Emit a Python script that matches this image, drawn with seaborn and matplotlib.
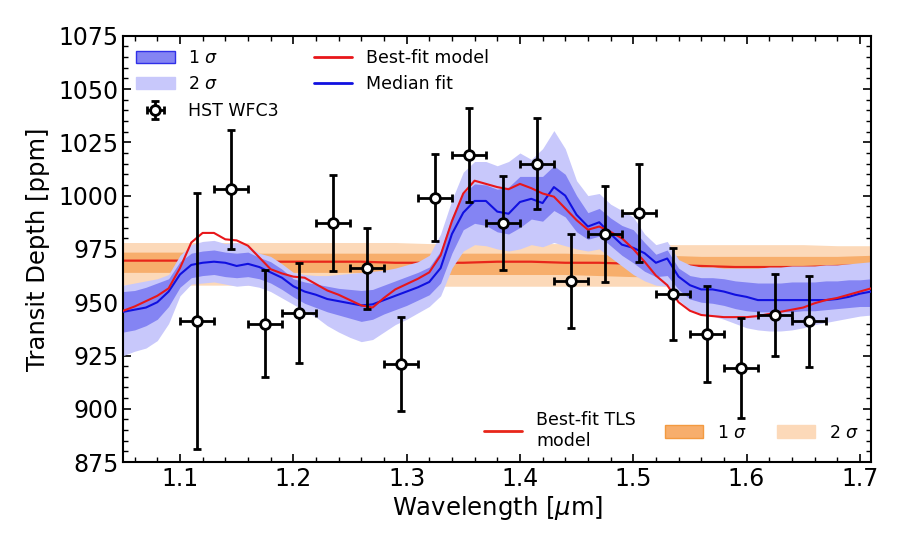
import matplotlib
matplotlib.use('Agg')
import matplotlib.pyplot as plt
from matplotlib.patches import Patch
from matplotlib.lines import Line2D
from matplotlib.ticker import MultipleLocator
import seaborn as sns
import numpy as np

# HST WFC3 spectrum
hst_wl = [1.115, 1.145, 1.175, 1.205, 1.235, 1.265, 1.295, 1.325, 1.355, 1.385,
          1.415, 1.445, 1.475, 1.505, 1.535, 1.565, 1.595, 1.625, 1.655]
hst_depth = [941, 1003, 940, 945, 987, 966, 921, 999, 1019, 987,
             1015, 960, 982, 992, 954, 935, 919, 944, 941]
hst_err = [60, 28, 25, 23.5, 22.5, 19, 22, 20.5, 22, 22,
           21.5, 22, 22.5, 23, 21.5, 22.5, 23.5, 19, 21.5]
hst_halfbin = [0.015] * 19

# retrieval model grid
wl = [1.05, 1.06, 1.07, 1.08, 1.09, 1.10, 1.11, 1.12, 1.13, 1.14, 1.15, 1.16,
      1.17, 1.18, 1.19, 1.20, 1.21, 1.22, 1.23, 1.24, 1.25, 1.26, 1.27, 1.28,
      1.29, 1.30, 1.31, 1.32, 1.33, 1.34, 1.35, 1.36, 1.37, 1.38, 1.39, 1.40,
      1.41, 1.42, 1.43, 1.44, 1.45, 1.46, 1.47, 1.48, 1.49, 1.50, 1.51, 1.52,
      1.53, 1.54, 1.55, 1.56, 1.57, 1.58, 1.59, 1.60, 1.61, 1.62, 1.63, 1.64,
      1.65, 1.66, 1.67, 1.68, 1.69, 1.70, 1.71]
best_fit = [946, 948, 950.5, 953, 956.5, 966, 978, 982.5, 982.5, 979.5, 979, 976.5,
            971, 965.5, 963.5, 962, 961.5, 958.5, 955.5, 953.5, 951, 948.5, 947.5, 952,
            956, 958.5, 961, 964, 972, 988, 1001, 1007, 1005.5, 1004, 1003, 1005.5,
            1003.5, 1001, 999.5, 994, 988.5, 984, 985.5, 983, 980, 975, 969, 962.5,
            958, 950, 946, 944, 943.5, 943, 943, 943, 943.5, 944.5, 945.5, 946.5,
            947.5, 949.5, 951, 952, 953.5, 955, 956.5]
median = [945.5, 946.5, 947.5, 950, 955, 963, 967.5, 968.5, 969, 968.5, 967, 968,
          966.5, 964, 961.5, 957.5, 955, 953.5, 951.5, 950.5, 949.5, 948.5, 949, 951,
          953, 955, 957, 959.5, 966, 982, 992, 997.5, 997.5, 992.5, 991.5, 997,
          998.5, 996.5, 1004, 1000, 991, 985.5, 987.5, 982, 977, 975.5, 973, 968.5,
          970.5, 962, 958, 956, 956, 955, 953.5, 952.5, 951, 951, 951, 951,
          951, 951, 951, 951.5, 952.5, 954, 955]
up_1s = [955, 955.5, 957, 959, 961, 969, 973, 974, 974.5, 973.5, 973, 973.5,
         971, 969, 965.5, 961, 959.5, 958.5, 957.5, 956.5, 956, 955.5, 956, 958,
         960, 962, 964, 966.5, 974, 990, 1001, 1005.5, 1005, 1003, 1004, 1009,
         1009, 1009, 1014, 1010, 1000, 992, 994, 989.5, 986, 984, 978, 972.5,
         974.5, 966, 962.5, 961.5, 961.5, 961, 960, 959.5, 959, 959, 959, 959.5,
         959.5, 959.5, 960, 960, 960.5, 960.5, 961]
lo_1s = [936, 937, 939, 942, 948, 957, 961.5, 962.5, 963, 962, 961.5, 962,
         961, 959, 956, 952.5, 949.5, 947.5, 945.5, 944, 942.5, 941, 942, 944.5,
         946.5, 948.5, 951, 953.5, 959, 973, 984, 987, 986, 983, 982, 985,
         989, 988, 993, 990, 983, 979.5, 981, 976.5, 972, 968.5, 964.5, 962,
         962.5, 956, 951.5, 950, 949.5, 948.5, 947, 946, 945.5, 945.5, 945.5, 945.5,
         946, 946, 946.5, 947, 947.5, 948, 948]
up_2s = [958, 959, 960, 961, 963, 972, 977, 978.5, 979, 977.5, 978, 976.5,
         973, 971.5, 968, 964, 963, 962.5, 962.5, 963, 963.5, 964, 964.5, 965,
         966, 967.5, 969, 972, 982, 998, 1011, 1016, 1016, 1014, 1016, 1020,
         1017, 1022, 1030.5, 1022, 1007, 1000, 1001, 996, 993, 990, 982, 977,
         978.5, 970, 967.5, 966.5, 966.5, 966, 966, 966, 966, 966.5, 966.5, 967,
         967, 967, 967.5, 967.5, 968, 968.5, 969]
lo_2s = [925, 927, 928.5, 932, 940, 953, 958.5, 959, 959.5, 958.5, 957.5, 958,
         957, 955, 952, 949, 946, 943, 939, 936, 933.5, 931.5, 932.5, 936,
         939.5, 942, 945, 948, 953, 966, 974, 977, 976.5, 975, 974, 975,
         977, 976, 978, 976.5, 975, 974, 975, 971, 967, 963, 960, 958,
         957.5, 951, 946.5, 944.5, 943.5, 942, 940, 938, 937, 936.5, 936.5, 937,
         938, 939.5, 940.5, 941.5, 942.5, 943.5, 944]

# TLS (flat) model
tls_wl = [1.05, 1.08, 1.11, 1.14, 1.17, 1.20, 1.23, 1.26, 1.29, 1.32, 1.35, 1.38,
          1.41, 1.44, 1.47, 1.50, 1.53, 1.56, 1.59, 1.62, 1.65, 1.68, 1.71]
tls_mid = [969.5, 969.5, 969.5, 969.5, 969, 969, 969, 969, 968.5, 968.5, 968.5, 969,
           969, 968.5, 968.5, 968, 967.5, 967, 966.5, 966.5, 966.5, 967, 967.5]
tls_up1 = [973.5, 973.5, 973.5, 973.5, 973, 973, 973, 973, 973, 973, 973, 973,
           973, 973, 972.5, 972, 972, 971.5, 971.5, 971.5, 971.5, 971.5, 972]
tls_lo1 = [964, 964, 964, 964, 964, 964, 964, 964, 963.5, 963, 963, 963,
           963, 963, 962.5, 962, 962, 961.5, 961.5, 961.5, 961.5, 962, 962]
tls_up2 = [978, 978, 978, 978, 978, 978, 978, 978, 978, 977.5, 977.5, 977.5,
           977.5, 977.5, 977.5, 977, 977, 977, 977, 977, 977, 976.5, 976.5]
tls_lo2 = [958, 958, 958, 958, 958, 958, 958, 958, 957.5, 957.5, 957.5, 957.5,
           957.5, 957.5, 957.5, 957.5, 957.5, 957.5, 957, 957, 957, 957, 957]

sns.set_style('ticks', {'xtick.direction': 'in', 'ytick.direction': 'in',
                        'axes.edgecolor': 'black', 'text.color': 'black',
                        'axes.labelcolor': 'black', 'xtick.color': 'black',
                        'ytick.color': 'black'})
plt.rcParams['font.family'] = ['DejaVu Sans']

fig = plt.figure(figsize=(9, 5.33), dpi=100)
ax = fig.add_axes([0.137, 0.133, 0.831, 0.80])

# TLS bands (behind)
c_or1, c_or2 = '#f7ae6c', '#fcd9b9'
ax.fill_between(tls_wl, tls_lo2, tls_up2, color=c_or2, lw=0, zorder=1)
ax.fill_between(tls_wl, tls_lo1, tls_up1, color=c_or1, lw=0, zorder=1.1)
sns.lineplot(x=tls_wl, y=tls_mid, color='#e8261a', lw=1.6, ax=ax, zorder=1.2)

# retrieval bands
c_bl1, c_bl2 = '#8484f3', '#c8c8fb'
ax.fill_between(wl, lo_2s, up_2s, color=c_bl2, lw=0, zorder=2)
ax.fill_between(wl, lo_1s, up_1s, color=c_bl1, lw=0, zorder=2.1)
sns.lineplot(x=wl, y=median, color='#1010e0', lw=1.5, ax=ax, zorder=3)
sns.lineplot(x=wl, y=best_fit, color='#e8161a', lw=1.5, ax=ax, zorder=3.1)

eb = ax.errorbar(hst_wl, hst_depth, xerr=hst_halfbin, yerr=hst_err, fmt='o',
                 color='k', mfc='white', mec='k', ms=7, mew=2, elinewidth=2,
                 capsize=3.2, capthick=2, zorder=5)

ax.set_xlim(1.05, 1.71)
ax.set_ylim(875, 1075)
ax.xaxis.set_major_locator(MultipleLocator(0.1))
ax.xaxis.set_minor_locator(MultipleLocator(0.02))
ax.yaxis.set_major_locator(MultipleLocator(25))
ax.yaxis.set_minor_locator(MultipleLocator(5))
ax.tick_params(which='both', direction='in', top=True, right=True, labelsize=17,
               colors='black')
ax.tick_params(which='major', length=6, width=1.2)
ax.tick_params(which='minor', length=3.5, width=1.0)
for s in ax.spines.values():
    s.set_linewidth(1.5)
    s.set_color('black')
ax.set_xlabel(r'Wavelength [$\mu$m]', fontsize=17.5, labelpad=2, color='black')
ax.set_ylabel('Transit Depth [ppm]', fontsize=17.5, labelpad=6, color='black')

h1 = Patch(facecolor=c_bl1, edgecolor='#3030e8', lw=1)
h2 = Patch(facecolor=c_bl2, edgecolor=c_bl2, lw=1)
hb = Line2D([], [], color='#e8161a', lw=2)
hm = Line2D([], [], color='#1010e0', lw=2)
leg1 = ax.legend([h1, h2, eb, hb, hm],
                 [r'1 $\sigma$', r'2 $\sigma$', 'HST WFC3', 'Best-fit model', 'Median fit'],
                 loc='upper left', ncol=2, frameon=False, fontsize=12.5,
                 handlelength=2.2, borderaxespad=0.35, columnspacing=2.0,
                 labelcolor='black')
ax.add_artist(leg1)

ht = Line2D([], [], color='#e8261a', lw=2)
ho1 = Patch(facecolor=c_or1, edgecolor='#f39a40', lw=1)
ho2 = Patch(facecolor=c_or2, edgecolor=c_or2, lw=1)
ax.legend([ht, ho1, ho2], ['Best-fit TLS\nmodel', r'1 $\sigma$', r'2 $\sigma$'],
          loc='lower right', ncol=3, frameon=False, fontsize=12.5,
          handlelength=2.2, columnspacing=1.7, borderaxespad=0.3,
          labelcolor='black')

fig.savefig('out.png', dpi=100)
